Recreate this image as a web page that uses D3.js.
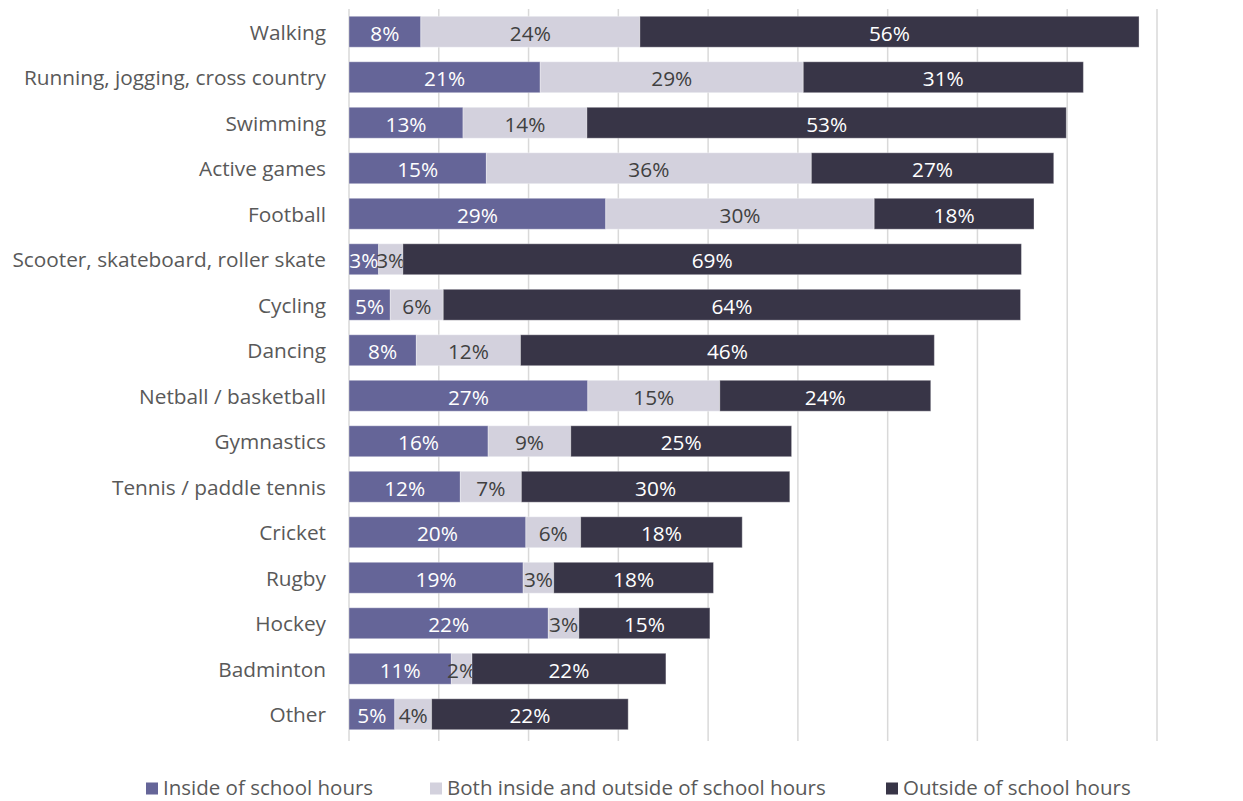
<!DOCTYPE html>
<html><head><meta charset="utf-8">
<script src="https://cdn.jsdelivr.net/npm/d3@7"></script>
<style>body{margin:0;background:#fff;}svg{display:block;}</style>
</head><body>
<svg id="chart" width="1243" height="801"></svg>
<script>
const categories = ["Walking","Running, jogging, cross country","Swimming","Active games","Football","Scooter, skateboard, roller skate","Cycling","Dancing","Netball / basketball","Gymnastics","Tennis / paddle tennis","Cricket","Rugby","Hockey","Badminton","Other"];
const inside  = [8.0,21.3,12.7,15.3,28.6,3.3,4.6,7.5,26.6,15.5,12.4,19.7,19.4,22.2,11.4,5.1];
const both    = [24.4,29.3,13.8,36.2,29.9,2.7,5.9,11.6,14.7,9.2,6.8,6.1,3.4,3.4,2.3,4.1];
const outside = [55.6,31.2,53.4,27.0,17.8,68.9,64.3,46.1,23.5,24.6,29.9,18.0,17.8,14.6,21.6,21.9];
const seriesNames = ["Inside of school hours","Both inside and outside of school hours","Outside of school hours"];
const xTicks = [0,10,20,30,40,50,60,70,80,90];

const colors = ["#656598","#d3d1dd","#383547"];
const textColors = ["#ffffff","#404040","#ffffff"];
const font = "'Open Sans', sans-serif";
const fs = 20.8;

const svg = d3.select("#chart");
const m = {left:349, right:86, top:9, bottom:64};
const W = 1243, H = 801;
const x = d3.scaleLinear().domain([0,90]).range([m.left, W-m.right]);
const y = d3.scaleBand().domain(categories).range([m.top, H-m.bottom]).paddingInner(0.32).paddingOuter(0.16);

// gridlines
svg.append("g").selectAll("line").data(xTicks).join("line")
  .attr("x1",d=>x(d)).attr("x2",d=>x(d))
  .attr("y1",m.top).attr("y2",H-m.bottom+4)
  .attr("stroke","#d9d9d9").attr("stroke-width",1.5);

const data = categories.map((c,i)=>({cat:c, v:[inside[i],both[i],outside[i]]}));
const rows = svg.append("g").selectAll("g").data(data).join("g");
rows.each(function(d){
  let acc=0;
  const g = d3.select(this);
  d.v.forEach((v,k)=>{
    const x0 = x(acc), x1 = x(acc+v);
    g.append("rect").attr("x",x0).attr("y",y(d.cat)).attr("width",x1-x0).attr("height",y.bandwidth())
      .attr("fill",colors[k]).attr("stroke","#ffffff").attr("stroke-opacity",0.35).attr("stroke-width",1);
    g.append("text").attr("x",(x0+x1)/2).attr("y",y(d.cat)+y.bandwidth()/2+1)
      .attr("text-anchor","middle").attr("dominant-baseline","central")
      .attr("font-family",font).attr("font-size",fs).attr("fill",textColors[k])
      .text(Math.round(v)+"%");
    acc+=v;
  });
});

// category labels
svg.append("g").selectAll("text").data(categories).join("text")
  .attr("x",m.left-23).attr("y",d=>y(d)+y.bandwidth()/2)
  .attr("text-anchor","end").attr("dominant-baseline","central")
  .attr("font-family",font).attr("font-size",fs).attr("fill","#595959")
  .text(d=>d);

// legend
const legX = [146,430,886];
const lg = svg.append("g").selectAll("g").data(seriesNames).join("g")
  .attr("transform",(d,i)=>`translate(${legX[i]},786.5)`);
lg.append("rect").attr("x",0).attr("y",-4).attr("width",12).attr("height",12).attr("fill",(d,i)=>colors[i]);
lg.append("text").attr("x",17).attr("y",0).attr("dominant-baseline","central")
  .attr("font-family",font).attr("font-size",20.5).attr("fill","#595959").text(d=>d);
</script>
</body></html>
